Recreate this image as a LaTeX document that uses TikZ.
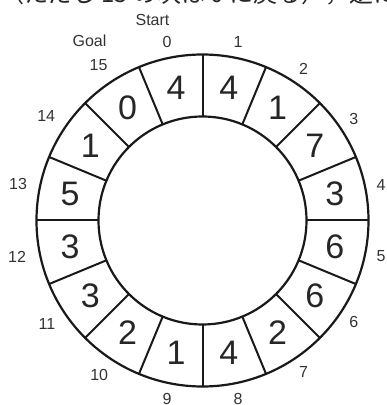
\documentclass[tikz,border=0pt]{standalone}
\usepackage{fontspec}
\setmainfont{Liberation Sans}
\newfontfamily\jpfont{Noto Sans CJK JP}
\usetikzlibrary{calc}
\begin{document}
\begin{tikzpicture}[x=1pt,y=1pt,
  ring/.style={line width=2.2pt, draw=black!90},
  spoke/.style={line width=2pt, draw=black!90},
  cellnum/.style={font=\fontsize{34}{34}\selectfont, text=black!85, inner sep=0pt},
  idx/.style={font=\fontsize{16}{16}\selectfont, text=black!80, inner sep=0pt},
  note/.style={font=\jpfont\fontsize{24}{24}\selectfont, text=black!85, inner sep=0pt, anchor=base west}
]
\useasboundingbox (0,0) rectangle (387,405);
\clip (0,0) rectangle (387,405);
\coordinate (C) at (202.5,184.5);
\node[note] (top) at (0,402) {（ただし 15 の次は 0 に戻る），逆に進む};
\draw[ring] (C) circle[radius=166pt];
\draw[ring] (C) circle[radius=104pt];
\foreach \i in {0,...,15} {
  \coordinate (in\i) at ($(C)+({90-22.5*\i}:104)$);
  \coordinate (out\i) at ($(C)+({90-22.5*\i}:166)$);
  \draw[spoke] (in\i) -- (out\i);
}
\foreach \i/\v in {0/4,1/4,2/1,3/7,4/3,5/6,6/6,7/2,8/4,9/1,10/2,11/3,12/3,13/5,14/1,15/0}
  \node[cellnum] (cell\i) at ($(C)+({101.25-22.5*\i}:135)$) {\v};
\foreach \i/\r in {0/182,1/182,2/182,3/182,4/182,5/182,6/182,7/182,8/182,9/182,10/186,11/187,12/189,13/188,14/188,15/187}
  \node[idx] (idx\i) at ($(C)+({101.25-22.5*\i}:\r)$) {\i};
\node[idx] (start) at (152.5,385) {Start};
\node[idx] (goal) at (89.5,364) {Goal};
\end{tikzpicture}
\end{document}
